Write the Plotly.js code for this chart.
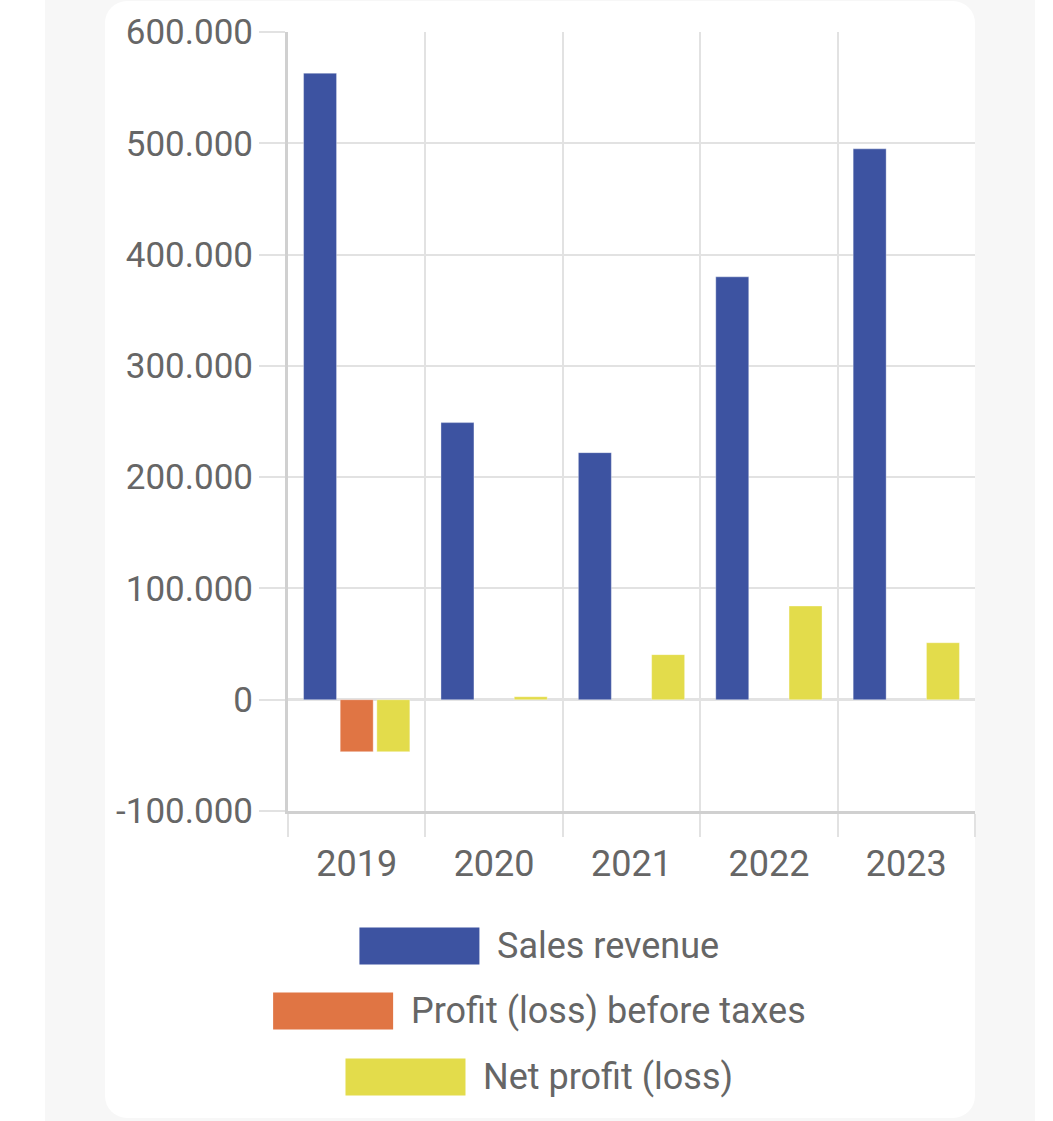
<!DOCTYPE html>
<html>
<head>
<meta charset="utf-8">
<script src="https://cdn.plot.ly/plotly-3.0.1.min.js"></script>
<style>
  html, body { margin:0; padding:0; background:#ffffff; }
  #wrap { position:relative; width:1053px; height:1121px; overflow:hidden; }
  #panel { position:absolute; left:45px; top:0; width:990px; height:1121px; background:#f7f7f7; }
  #card { position:absolute; left:105px; top:1px; width:870px; height:1117px; background:#ffffff; border-radius:22px; }
  #chart { position:absolute; left:0; top:0; width:1053px; height:1121px; }
</style>
</head>
<body>
<div id="wrap">
  <div id="panel"></div>
  <div id="card"></div>
  <div id="chart"></div>
</div>
<script>
// ---- data ----
const years = ["2019", "2020", "2021", "2022", "2023"];
const salesRevenue = [563000, 249000, 222000, 380000, 495000];
const profitBeforeTaxes = [-46700, null, null, null, null];
const netProfit = [-46700, 2700, 40500, 84200, 51200];
const seriesNames = ["Sales revenue", "Profit (loss) before taxes", "Net profit (loss)"];
const seriesColors = ["#3d53a1", "#e07544", "#e3dc4b"];
const yTickVals = [-100000, 0, 100000, 200000, 300000, 400000, 500000, 600000];
const yTickText = ["-100.000", "0", "100.000", "200.000", "300.000", "400.000", "500.000", "600.000"];

// ---- geometry ----
const W = 1053, H = 1121;
const M = { l: 288, r: 78, t: 32, b: 310 };
const plotW = W - M.l - M.r, plotH = H - M.t - M.b;
const FONT = "Roboto, 'Open Sans', sans-serif";
const TXT = "#666666";
const GRID = "#e2e2e2";
const FS = 36;

const seriesData = [salesRevenue, profitBeforeTaxes, netProfit];
const traces = seriesData.map((vals, i) => ({
  type: "bar",
  name: seriesNames[i],
  x: years,
  y: vals,
  marker: { color: seriesColors[i], line: { width: 1, color: "rgba(255,255,255,0.35)" } },
  hoverinfo: "x+y+name"
}));

// legend built from names/colors (large swatches)
const ctx = document.createElement("canvas").getContext("2d");
ctx.font = FS + "px Roboto";
const rowY = [946, 1011, 1077];
const swW = 120, swH = 37, gap = 17, centerX = 539;
const toPX = px => (px - M.l) / plotW;
const toPY = py => (H - M.b - py) / plotH;
const shapes = [], annotations = [];
seriesNames.forEach((name, i) => {
  const tw = ctx.measureText(name).width;
  const total = swW + gap + tw;
  const left = centerX - total / 2;
  shapes.push({
    type: "rect", xref: "paper", yref: "paper",
    x0: toPX(left), x1: toPX(left + swW),
    y0: toPY(rowY[i] + swH / 2), y1: toPY(rowY[i] - swH / 2),
    fillcolor: seriesColors[i], line: { width: 0 }
  });
  annotations.push({
    xref: "paper", yref: "paper",
    x: toPX(left + swW + gap), y: toPY(rowY[i]),
    xanchor: "left", yanchor: "middle",
    text: name, showarrow: false, borderpad: 0,
    font: { family: FONT, size: FS, color: TXT }
  });
});

const layout = {
  width: W, height: H,
  margin: M,
  paper_bgcolor: "rgba(0,0,0,0)",
  plot_bgcolor: "rgba(0,0,0,0)",
  showlegend: false,
  barmode: "group",
  bargap: 0.2,
  bargroupgap: 0.1,
  font: { family: FONT, size: FS, color: TXT },
  xaxis: {
    type: "category",
    range: [-0.5, 4.5],
    tickson: "boundaries",
    ticks: "outside", ticklen: 23, tickwidth: 2, tickcolor: GRID,
    showgrid: true, gridcolor: GRID, gridwidth: 2,
    showline: true, linecolor: "#d0d0d0", linewidth: 3,
    tickfont: { family: FONT, size: FS, color: TXT },
    ticklabelstandoff: 19,
    fixedrange: true
  },
  yaxis: {
    range: [-100000, 600000],
    tickmode: "array", tickvals: yTickVals, ticktext: yTickText,
    ticks: "outside", ticklen: 26, tickwidth: 2, tickcolor: GRID,
    showgrid: true, gridcolor: GRID, gridwidth: 2,
    zeroline: true, zerolinecolor: GRID, zerolinewidth: 3,
    showline: true, linecolor: "#d0d0d0", linewidth: 3,
    tickfont: { family: FONT, size: 35, color: TXT },
    ticklabelstandoff: -1,
    fixedrange: true
  },
  shapes: shapes,
  annotations: annotations
};

Plotly.newPlot("chart", traces, layout, { displayModeBar: false, staticPlot: true });
</script>
</body>
</html>
